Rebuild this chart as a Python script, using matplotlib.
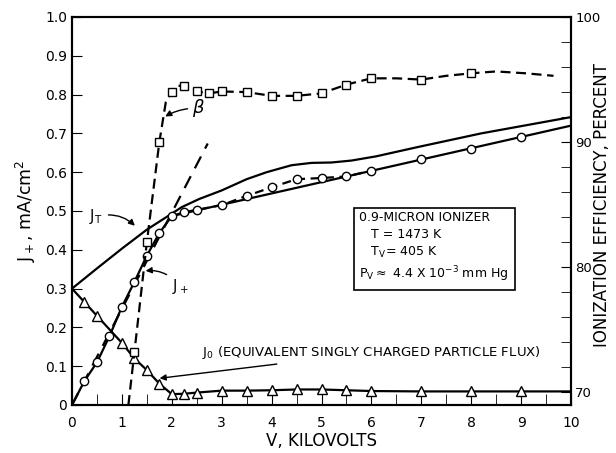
import matplotlib
matplotlib.use('Agg')
import matplotlib.pyplot as plt
from matplotlib.ticker import MultipleLocator, FixedLocator

plt.rcParams['font.family'] = ['DejaVu Sans']
plt.rcParams['mathtext.fontset'] = 'dejavusans'

# ---------------- data ----------------
# J+ measured points (circles)
jp_v = [0.25, 0.5, 0.75, 1.0, 1.25, 1.5, 1.75, 2.0, 2.25, 2.5, 3.0, 3.5, 4.0, 4.5, 5.0, 5.5, 6.0, 7.0, 8.0, 9.0]
jp_j = [0.062, 0.11, 0.177, 0.253, 0.317, 0.385, 0.443, 0.487, 0.497, 0.503, 0.515, 0.539, 0.561, 0.582, 0.585, 0.589, 0.604, 0.634, 0.659, 0.69]
# J+ solid fitted line
jp_line_v = [0.0, 0.25, 0.5, 0.75, 1.0, 1.25, 1.5, 1.75, 2.0, 10.0]
jp_line_j = [0.0, 0.062, 0.11, 0.177, 0.253, 0.317, 0.385, 0.443, 0.487, 0.72]
# J+ dashed curve through upper points
jp_dash_v = [2.0, 2.25, 2.5, 3.0, 3.5, 4.0, 4.5, 5.0, 5.5, 6.0]
jp_dash_j = [0.487, 0.497, 0.503, 0.515, 0.539, 0.561, 0.582, 0.585, 0.589, 0.604]
# straight dashed line from origin
child_v = [0.0, 2.72]
child_j = [0.0, 0.674]
# J_T total current
jt_v = [0.0, 0.5, 1.0, 1.5, 1.9, 2.2, 2.55, 3.0, 3.5, 3.9, 4.4, 4.8, 5.2, 5.6, 6.1, 6.9, 8.2, 10.0]
jt_j = [0.30, 0.352, 0.403, 0.452, 0.485, 0.51, 0.531, 0.553, 0.582, 0.600, 0.618, 0.624, 0.625, 0.630, 0.641, 0.664, 0.700, 0.742]
# J0 (triangles)
j0_v = [0.25, 0.5, 1.0, 1.25, 1.5, 1.75, 2.0, 2.25, 2.5, 3.0, 3.5, 4.0, 4.5, 5.0, 5.5, 6.0, 7.0, 8.0, 9.0]
j0_j = [0.265, 0.23, 0.16, 0.12, 0.09, 0.055, 0.028, 0.029, 0.032, 0.037, 0.037, 0.038, 0.040, 0.040, 0.038, 0.036, 0.035, 0.035, 0.035]
j0_line_v = [0.0] + j0_v + [10.0]
j0_line_j = [0.30] + j0_j + [0.035]
# beta, ionization efficiency (percent, right axis)
beta_v = [1.25, 1.5, 1.75, 2.0, 2.25, 2.5, 2.75, 3.0, 3.5, 4.0, 4.5, 5.0, 5.5, 6.0, 7.0, 8.0]
beta_p = [73.2, 82.0, 90.0, 94.0, 94.5, 94.05, 93.9, 94.05, 94.0, 93.7, 93.7, 93.9, 94.6, 95.1, 95.0, 95.5]
beta_curve_v = [1.13, 1.25, 1.5, 1.75, 1.88, 2.0, 2.1, 2.25, 2.5, 2.75, 3.0, 3.5, 4.0, 4.5, 5.0, 5.5, 6.0, 6.5, 7.0, 7.5, 8.0, 8.5, 9.1, 9.65]
beta_curve_p = [69.0, 73.2, 82.0, 90.0, 93.2, 94.0, 94.5, 94.5, 94.05, 93.9, 94.05, 94.0, 93.7, 93.7, 93.9, 94.6, 95.1, 95.1, 95.0, 95.3, 95.5, 95.65, 95.5, 95.3]

x_ticks = list(range(0, 11))
x_labels = [str(t) for t in x_ticks]
y_ticks = [0.0, 0.1, 0.2, 0.3, 0.4, 0.5, 0.6, 0.7, 0.8, 0.9, 1.0]
y_labels = ['0', '0.1', '0.2', '0.3', '0.4', '0.5', '0.6', '0.7', '0.8', '0.9', '1.0']
r_ticks = [70, 80, 90, 100]
r_labels = ['70', '80', '90', '100']

# ---------------- figure ----------------
W, H = 616, 453
fig = plt.figure(figsize=(W / 100, H / 100), dpi=100)
L, R, T, B = 72, 571, 17, 405
ax = fig.add_axes([L / W, (H - B) / H, (R - L) / W, (B - T) / H])
ax.set_xlim(0, 10)
ax.set_ylim(0, 1.0)

lw = 1.6
ms = 6
ax.plot(jp_line_v, jp_line_j, color='black', lw=lw, zorder=3)
ax.plot(jp_dash_v, jp_dash_j, color='black', lw=lw, ls=(0, (4, 2.5)), zorder=3)
ax.plot(child_v, child_j, color='black', lw=lw, ls=(0, (6, 4)), zorder=3)
ax.plot(jp_v, jp_j, ls='none', marker='o', ms=ms, mfc='white', mec='black', mew=1.0, zorder=5)
ax.plot(jt_v, jt_j, color='black', lw=lw, zorder=3)
ax.plot(j0_line_v, j0_line_j, color='black', lw=lw, zorder=3)
ax.plot(j0_v, j0_j, ls='none', marker='^', ms=ms + 1, mfc='white', mec='black', mew=1.0, zorder=5)

ax.set_xticks(x_ticks)
ax.set_xticklabels(x_labels)
ax.xaxis.set_minor_locator(MultipleLocator(0.5))
ax.set_yticks(y_ticks)
ax.set_yticklabels(y_labels)
ax.tick_params(axis='both', which='both', direction='in', labelsize=10)
ax.tick_params(axis='x', which='major', length=8, pad=8)
ax.tick_params(axis='x', which='minor', length=8)
ax.tick_params(axis='y', which='major', length=7)
ax.tick_params(top=False, right=False)
for s in ax.spines.values():
    s.set_linewidth(1.5)

ax.set_xlabel('V, KILOVOLTS', fontsize=12, labelpad=1)
ax.set_ylabel(r'$\mathrm{J_+}$, mA/cm$^2$', fontsize=12.5, labelpad=5)

ax2 = ax.twinx()
ax2.set_ylim(69, 100)
ax2.plot(beta_curve_v, beta_curve_p, color='black', lw=lw, ls=(0, (4.5, 2.5)), zorder=3)
ax2.plot(beta_v, beta_p, ls='none', marker='s', ms=ms, mfc='white', mec='black', mew=1.0, zorder=5)
ax2.yaxis.set_major_locator(FixedLocator(r_ticks))
ax2.set_yticklabels(r_labels)
ax2.yaxis.set_minor_locator(MultipleLocator(2))
ax2.tick_params(axis='y', which='both', direction='in', length=7, labelsize=9.5, pad=3)
for s in ax2.spines.values():
    s.set_linewidth(1.5)
fig.text(602 / W, 1 - 205 / H, 'IONIZATION EFFICIENCY, PERCENT', rotation=90,
         ha='center', va='center', fontsize=12)

# ---------------- annotations ----------------
arrow = dict(arrowstyle='-|>', color='black', lw=1.0, mutation_scale=9)
ax.annotate(r'$\mathrm{J_T}$', xy=(1.3, 0.457), xytext=(0.35, 0.485), fontsize=10.5,
            va='center', ha='left',
            arrowprops=dict(connectionstyle='arc3,rad=-0.3', shrinkA=2, **arrow))
ax.annotate(r'$\mathrm{J_+}$', xy=(1.42, 0.345), xytext=(2.0, 0.305), fontsize=10.5,
            va='center', ha='left',
            arrowprops=dict(connectionstyle='arc3,rad=0.3', shrinkA=2, **arrow))
ax.annotate(r'$\mathrm{J_0}$ (EQUIVALENT SINGLY CHARGED PARTICLE FLUX)', xy=(1.7, 0.068),
            xytext=(2.6, 0.135), fontsize=9.5, va='center', ha='left',
            arrowprops=dict(connectionstyle='arc3,rad=0.0', shrinkA=1, **arrow))
ax.annotate(r'$\beta$', xy=(1.82, 0.74), xytext=(2.4, 0.765), fontsize=13,
            va='center', ha='left',
            arrowprops=dict(connectionstyle='arc3,rad=0.15', shrinkA=1, **arrow))

box_txt = ('0.9-MICRON IONIZER\n'
           '   T = 1473 K\n'
           r'   $\mathrm{T_V}$= 405 K' '\n'
           r'$\mathrm{P_V} \approx$ 4.4 X 10$^{-3}$ mm Hg')
ax.text(5.76, 0.405, box_txt, fontsize=9, va='center', ha='left', linespacing=1.35,
        bbox=dict(boxstyle='square,pad=0.45', fc='white', ec='black', lw=1.2), zorder=6)

fig.savefig('out.png', dpi=100)
